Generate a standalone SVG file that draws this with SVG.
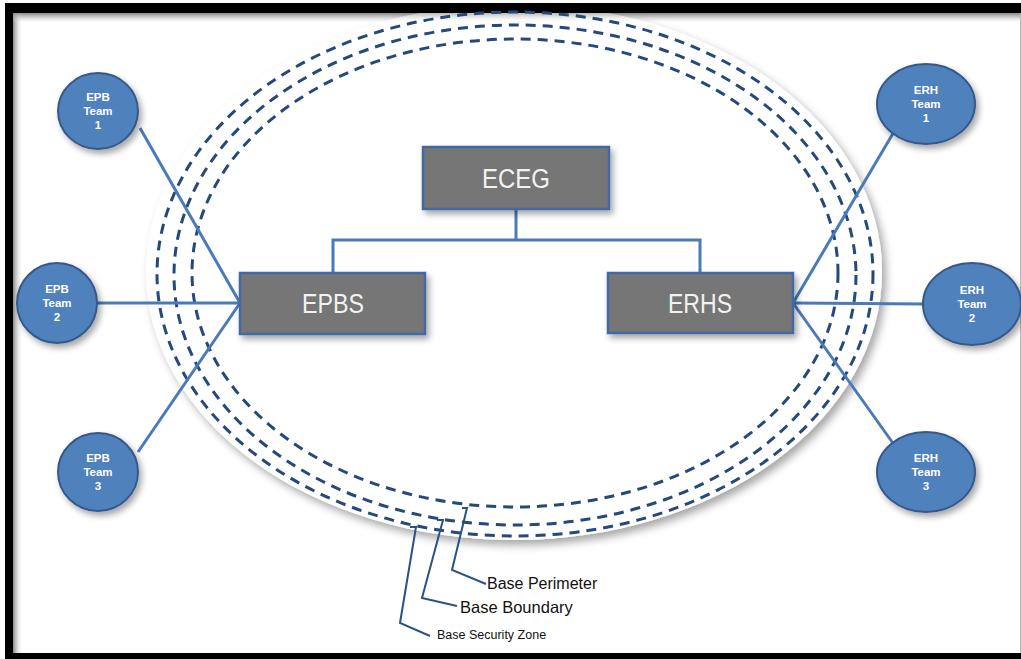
<svg xmlns="http://www.w3.org/2000/svg" width="1021" height="659" viewBox="0 0 1021 659">
<defs>
<filter id="shadow" x="-20%" y="-20%" width="140%" height="140%">
<feDropShadow dx="4" dy="5" stdDeviation="4" flood-color="#000" flood-opacity="0.35"/>
</filter>
<filter id="shadowS" x="-30%" y="-30%" width="160%" height="160%">
<feDropShadow dx="3" dy="4" stdDeviation="3" flood-color="#000" flood-opacity="0.35"/>
</filter>
<linearGradient id="gTop" x1="0" y1="0" x2="0" y2="1">
<stop offset="0" stop-color="#888"/>
<stop offset="1" stop-color="#fff" stop-opacity="0"/>
</linearGradient>
<linearGradient id="gLeft" x1="0" y1="0" x2="1" y2="0">
<stop offset="0" stop-color="#888"/>
<stop offset="1" stop-color="#fff" stop-opacity="0"/>
</linearGradient>
</defs>
<style>
.box{fill:#767676;stroke:#3f6aa5;stroke-width:2.5}
.boxt{font-family:"Liberation Sans",Arial,sans-serif;fill:#f2f2f2;font-size:27px;text-anchor:middle}
.team{fill:#4f81bd;stroke:#36598a;stroke-width:2}
.teamt{font-family:"Liberation Sans",Arial,sans-serif;fill:#fff;font-weight:bold;font-size:11.5px;text-anchor:middle}
.dash{fill:none;stroke:#24497a;stroke-width:3;stroke-dasharray:10 7}
.conn{fill:none;stroke:#4a7ab8;stroke-width:3}
.ptr{fill:none;stroke:#2a5287;stroke-width:2}
.lbl{font-family:"Liberation Sans",Arial,sans-serif;fill:#111}
</style>
<rect x="0" y="0" width="1021" height="659" fill="#fff"/>
<rect x="5" y="3" width="1030" height="670" fill="#000"/>
<rect x="13" y="13" width="1007" height="640" fill="#fff"/>
<rect x="13" y="13" width="1007" height="10" fill="url(#gTop)"/>
<rect x="13" y="13" width="10" height="640" fill="url(#gLeft)"/>
<line x1="1020.5" y1="13" x2="1020.5" y2="653" stroke="#bbb" stroke-width="1"/>

<g id="zone">
<ellipse cx="514" cy="272" rx="368" ry="268" fill="#fff" filter="url(#shadow)"/>
<rect x="13" y="3" width="1010" height="10" fill="#000"/>
<rect x="13" y="13" width="1007" height="10" fill="url(#gTop)" opacity="0.6"/>
<ellipse class="dash" cx="515" cy="274" rx="358" ry="262"/>
<ellipse class="dash" cx="515" cy="275" rx="341" ry="250"/>
<ellipse class="dash" cx="515" cy="273" rx="323" ry="234"/>
</g>

<g id="connectors">
<polyline class="conn" points="516,209 516,240"/>
<polyline class="conn" points="333,272 333,240 700,240 700,272"/>
<line class="conn" x1="240" y1="303" x2="140" y2="128"/>
<line class="conn" x1="240" y1="303" x2="95" y2="303"/>
<line class="conn" x1="240" y1="303" x2="138" y2="452"/>
<line class="conn" x1="793" y1="303" x2="895" y2="130"/>
<line class="conn" x1="793" y1="303" x2="925" y2="304"/>
<line class="conn" x1="793" y1="303" x2="895" y2="446"/>
</g>

<g id="pointers">
<polyline class="ptr" points="462,508 467,508 452,570 486,584"/>
<polyline class="ptr" points="437,520 443,520 422,598 457,606"/>
<polyline class="ptr" points="410,527 416,527 400,623 430,636"/>
</g>
<text class="lbl" x="487" y="589" font-size="16">Base Perimeter</text>
<text class="lbl" x="460" y="613" font-size="16.5">Base Boundary</text>
<text class="lbl" x="437" y="639" font-size="12.5" fill="#444">Base Security Zone</text>

<g id="ECEG">
<rect class="box" x="423" y="147" width="186" height="62" filter="url(#shadowS)"/>
<text class="boxt" x="516" y="188" textLength="68" lengthAdjust="spacingAndGlyphs">ECEG</text>
</g>
<g id="EPBS">
<rect class="box" x="240" y="273" width="185" height="61" filter="url(#shadowS)"/>
<text class="boxt" x="333" y="313" textLength="62" lengthAdjust="spacingAndGlyphs">EPBS</text>
</g>
<g id="ERHS">
<rect class="box" x="608" y="273" width="185" height="60" filter="url(#shadowS)"/>
<text class="boxt" x="700" y="313" textLength="64" lengthAdjust="spacingAndGlyphs">ERHS</text>
</g>

<g id="EPB1">
<ellipse class="team" cx="98" cy="111" rx="40" ry="38" filter="url(#shadowS)"/>
<text class="teamt" x="98" y="101">EPB</text><text class="teamt" x="98" y="115">Team</text><text class="teamt" x="98" y="129">1</text>
</g>
<g id="EPB2">
<ellipse class="team" cx="57" cy="303" rx="40" ry="40" filter="url(#shadowS)"/>
<text class="teamt" x="57" y="293">EPB</text><text class="teamt" x="57" y="307">Team</text><text class="teamt" x="57" y="321">2</text>
</g>
<g id="EPB3">
<ellipse class="team" cx="98" cy="472" rx="40" ry="39" filter="url(#shadowS)"/>
<text class="teamt" x="98" y="462">EPB</text><text class="teamt" x="98" y="476">Team</text><text class="teamt" x="98" y="490">3</text>
</g>
<g id="ERH1">
<ellipse class="team" cx="926" cy="104" rx="49" ry="40" filter="url(#shadowS)"/>
<text class="teamt" x="926" y="94">ERH</text><text class="teamt" x="926" y="108">Team</text><text class="teamt" x="926" y="122">1</text>
</g>
<g id="ERH2">
<ellipse class="team" cx="972" cy="304" rx="49" ry="41" filter="url(#shadowS)"/>
<text class="teamt" x="972" y="294">ERH</text><text class="teamt" x="972" y="308">Team</text><text class="teamt" x="972" y="322">2</text>
</g>
<g id="ERH3">
<ellipse class="team" cx="926" cy="472" rx="49" ry="40" filter="url(#shadowS)"/>
<text class="teamt" x="926" y="462">ERH</text><text class="teamt" x="926" y="476">Team</text><text class="teamt" x="926" y="490">3</text>
</g>
</svg>
